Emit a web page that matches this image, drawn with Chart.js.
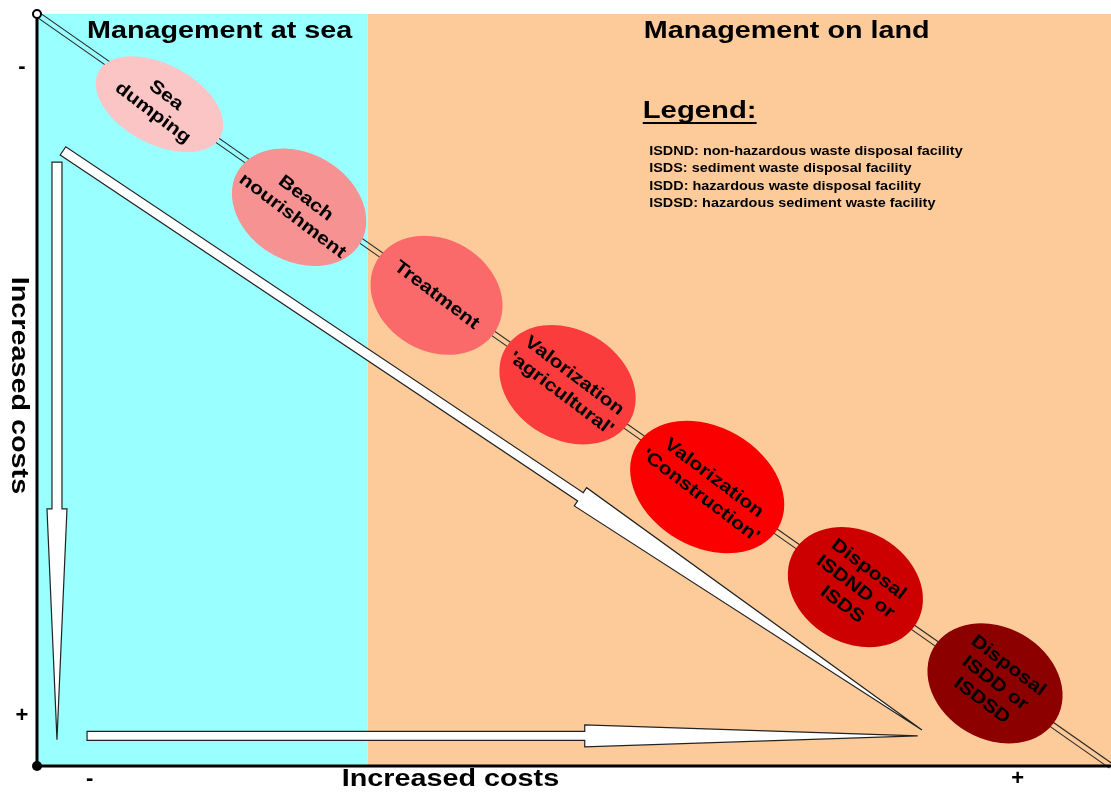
<!DOCTYPE html>
<html>
<head>
<meta charset="utf-8">
<script src="https://cdn.jsdelivr.net/npm/chart.js@4"></script>
<style>
  html, body { margin: 0; padding: 0; background: #fff; }
</style>
</head>
<body>
<canvas id="grafico" width="1111" height="795"></canvas>
<script>
// Etapas de gestão dos sedimentos (eixos: custo 0-100, origem no canto inferior esquerdo)
const etapas = [
    ["Sea", "dumping"],
    ["Beach", "nourishment"],
    ["Treatment"],
    ["Valorization", "'agricultural'"],
    ["Valorization", "'Construction'"],
    ["Disposal", "ISDND or", "ISDS"],
    ["Disposal", "ISDD or", "ISDSD"]
];
const custoX = [11.4, 24.4, 37.2, 49.4, 62.4, 76.2, 89.2];
const custoY = [88.0, 74.3, 62.6, 50.7, 37.1, 23.8, 11.0];

// Cores das elipses (do claro ao escuro)
const coresEtapa = ["#fbc5c5", "#f79292", "#fa6a6a", "#fa3c3c", "#fa0000", "#cc0000", "#8c0000"];
// semi-eixos (px) e inclinação (graus) de cada elipse
const eixosElipse = [[69, 40], [71, 54], [69, 56], [72, 55], [82, 60], [71, 56], [71, 56]];
const inclinacao = [28, 30, 30, 30, 30, 30, 30];

// Regiões
const regioes = ["Management at sea", "Management on land"];
const limiteMar = 30.8;

// Legenda
const tituloLegenda = "Legend:";
const legenda = [
    "ISDND: non-hazardous waste disposal facility",
    "ISDS: sediment waste disposal facility",
    "ISDD: hazardous waste disposal facility",
    "ISDSD: hazardous sediment waste facility"
];

const tituloEixoX = "Increased costs";
const tituloEixoY = "Increased costs";
const marcasX = ["-", "+"];
const marcasY = ["-", "+"];

// Diagonal (linha dupla)
const diagX = [0, 100];
const diagY = [100, 0];

// Setas: início, início da ponta, ponta
const setaVertX = [1.86, 1.86, 1.86];
const setaVertY = [80.3, 34.2, 3.5];
const setaHorX = [4.66, 51.0, 82.0];
const setaHorY = [4.0, 4.0, 4.0];
const setaDiagX = [2.42, 50.6, 82.4];
const setaDiagY = [81.8, 35.8, 4.8];

const FONTE = '"Liberation Sans", Arial, sans-serif';

function texto(ctx, str, x, y, tam, esticar, ang, align) {
    ctx.save();
    ctx.translate(x, y);
    ctx.rotate(ang);
    ctx.scale(esticar, 1);
    ctx.font = `bold ${tam}px ${FONTE}`;
    ctx.textAlign = align;
    ctx.textBaseline = "middle";
    ctx.fillStyle = "#000";
    ctx.fillText(str, 0, 0);
    ctx.restore();
}

function seta(ctx, xs, ys, sx, sy, haste, cabeca) {
    const p = xs.map((v, i) => [sx.getPixelForValue(v), sy.getPixelForValue(ys[i])]);
    const dx = p[2][0] - p[0][0], dy = p[2][1] - p[0][1];
    const len = Math.hypot(dx, dy);
    const nx = -dy / len, ny = dx / len;
    const h = haste / 2, c = cabeca / 2;
    ctx.save();
    ctx.beginPath();
    ctx.moveTo(p[0][0] + nx * h, p[0][1] + ny * h);
    ctx.lineTo(p[1][0] + nx * h, p[1][1] + ny * h);
    ctx.lineTo(p[1][0] + nx * c, p[1][1] + ny * c);
    ctx.lineTo(p[2][0], p[2][1]);
    ctx.lineTo(p[1][0] - nx * c, p[1][1] - ny * c);
    ctx.lineTo(p[1][0] - nx * h, p[1][1] - ny * h);
    ctx.lineTo(p[0][0] - nx * h, p[0][1] - ny * h);
    ctx.closePath();
    ctx.fillStyle = "#fff";
    ctx.fill();
    ctx.strokeStyle = "#222";
    ctx.lineWidth = 1.2;
    ctx.lineJoin = "miter";
    ctx.stroke();
    ctx.restore();
}

const fundo = {
    id: "fundo",
    beforeDatasetsDraw(chart) {
        const { ctx, chartArea: a, scales: { x, y } } = chart;
        const xm = x.getPixelForValue(limiteMar);
        ctx.save();
        ctx.fillStyle = "#99ffff";
        ctx.fillRect(a.left, a.top, xm - a.left, a.bottom - a.top);
        ctx.fillStyle = "#fdcb9a";
        ctx.fillRect(xm, a.top, a.right - xm, a.bottom - a.top);

        // linha dupla diagonal
        const x0 = x.getPixelForValue(diagX[0]), y0 = y.getPixelForValue(diagY[0]);
        const x1 = x.getPixelForValue(diagX[1]), y1 = y.getPixelForValue(diagY[1]);
        const len = Math.hypot(x1 - x0, y1 - y0);
        const nx = -(y1 - y0) / len * 2.6, ny = (x1 - x0) / len * 2.6;
        ctx.strokeStyle = "#2a2a2a";
        ctx.lineWidth = 1.2;
        [1, -1].forEach(s => {
            ctx.beginPath();
            ctx.moveTo(x0 + s * nx, y0 + s * ny);
            ctx.lineTo(x1 + s * nx, y1 + s * ny);
            ctx.stroke();
        });

        // eixos
        ctx.strokeStyle = "#000";
        ctx.lineWidth = 3;
        ctx.beginPath();
        ctx.moveTo(a.left, a.top);
        ctx.lineTo(a.left, a.bottom);
        ctx.lineTo(a.right, a.bottom);
        ctx.stroke();
        ctx.fillStyle = "#000";
        ctx.beginPath();
        ctx.arc(a.left, a.bottom, 5, 0, Math.PI * 2);
        ctx.fill();
        ctx.beginPath();
        ctx.arc(a.left, a.top, 4, 0, Math.PI * 2);
        ctx.fillStyle = "#fff";
        ctx.fill();
        ctx.lineWidth = 2;
        ctx.stroke();
        ctx.restore();

        // setas
        seta(ctx, setaVertX, setaVertY, x, y, 10, 20);
        seta(ctx, setaHorX, setaHorY, x, y, 9, 22);
        seta(ctx, setaDiagX, setaDiagY, x, y, 10, 22);
    },
    afterDatasetsDraw(chart) {
        const { ctx, chartArea: a, scales: { x, y } } = chart;
        const meta = chart.getDatasetMeta(0);
        const rotTexto = 37 * Math.PI / 180;

        meta.data.forEach((pt, i) => {
            ctx.save();
            ctx.beginPath();
            ctx.ellipse(pt.x, pt.y, eixosElipse[i][0], eixosElipse[i][1], inclinacao[i] * Math.PI / 180, 0, Math.PI * 2);
            ctx.fillStyle = coresEtapa[i];
            ctx.fill();
            ctx.restore();

            const linhas = etapas[i];
            ctx.save();
            ctx.translate(pt.x, pt.y);
            ctx.rotate(rotTexto);
            linhas.forEach((l, j) => {
                const off = (j - (linhas.length - 1) / 2) * 22;
                texto(ctx, l, 0, off, 18, 1.18, 0, "center");
            });
            ctx.restore();
        });

        // títulos das regiões
        texto(ctx, regioes[0], x.getPixelForValue(17.0), y.getPixelForValue(97.7), 23, 1.25, 0, "center");
        texto(ctx, regioes[1], x.getPixelForValue(69.8), y.getPixelForValue(97.7), 23, 1.25, 0, "center");

        // legenda
        const lx = x.getPixelForValue(56.4);
        const ly = y.getPixelForValue(87.1);
        texto(ctx, tituloLegenda, lx, ly, 24, 1.22, 0, "left");
        ctx.save();
        ctx.font = `bold 24px ${FONTE}`;
        const larg = ctx.measureText(tituloLegenda).width * 1.22;
        ctx.fillStyle = "#000";
        ctx.fillRect(lx, ly + 11, larg, 2);
        ctx.restore();
        const legY = [81.7, 79.45, 77.1, 74.8];
        legenda.forEach((l, i) => {
            texto(ctx, l, x.getPixelForValue(57.0), y.getPixelForValue(legY[i]), 13, 1.11, 0, "left");
        });

        // títulos e marcas dos eixos
        texto(ctx, tituloEixoX, x.getPixelForValue(38.5), a.bottom + 14, 23, 1.25, 0, "center");
        texto(ctx, tituloEixoY, 18, y.getPixelForValue(50.6), 23, 1.25, Math.PI / 2, "center");
        texto(ctx, marcasX[0], x.getPixelForValue(4.9), a.bottom + 13, 22, 1, 0, "center");
        texto(ctx, marcasX[1], x.getPixelForValue(91.3), a.bottom + 13, 22, 1, 0, "center");
        texto(ctx, marcasY[0], 22, y.getPixelForValue(93.0), 22, 1, 0, "center");
        texto(ctx, marcasY[1], 22, y.getPixelForValue(6.6), 22, 1, 0, "center");
    }
};

new Chart(document.getElementById("grafico").getContext("2d"), {
    type: "scatter",
    data: {
        datasets: [{
            label: "Etapas",
            data: custoX.map((v, i) => ({ x: v, y: custoY[i] })),
            pointRadius: 0,
            pointHoverRadius: 0
        }]
    },
    options: {
        responsive: false,
        animation: false,
        layout: { padding: { left: 37, top: 14, right: 0, bottom: 29 } },
        plugins: {
            legend: { display: false },
            tooltip: { enabled: false }
        },
        scales: {
            x: { type: "linear", min: 0, max: 100, display: false },
            y: { type: "linear", min: 0, max: 100, display: false }
        }
    },
    plugins: [fundo]
});
</script>
</body>
</html>
